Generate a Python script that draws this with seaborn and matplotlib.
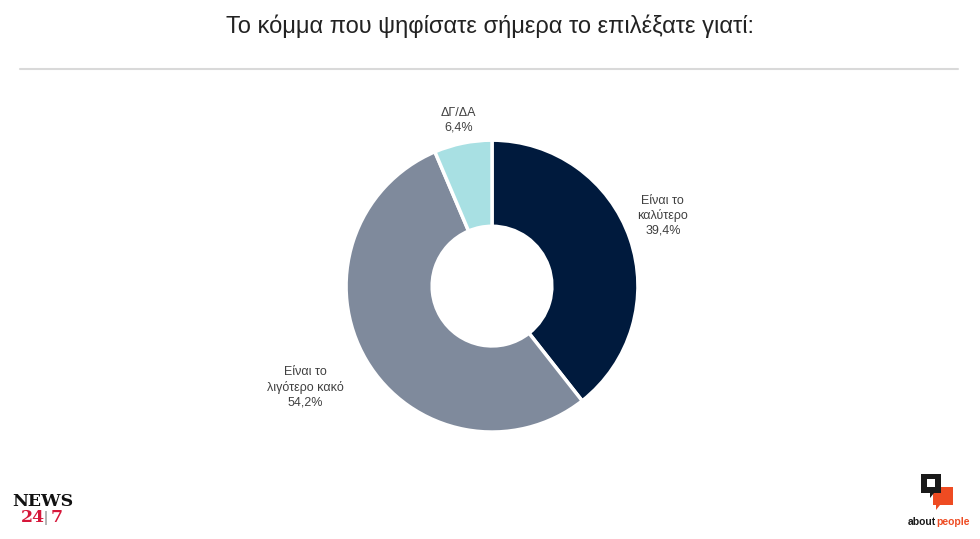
import matplotlib
matplotlib.use("Agg")
import matplotlib.pyplot as plt
import seaborn as sns
import numpy as np
from matplotlib.patches import Rectangle, Polygon

# ---------------------------------------------------------
# DATA
# ---------------------------------------------------------
title = "Το κόμμα που ψηφίσατε σήμερα το επιλέξατε γιατί:"
categories = ["Είναι το\nκαλύτερο", "Είναι το\nλιγότερο κακό", "ΔΓ/ΔΑ"]
shares = [39.4, 54.2, 6.4]
share_labels = ["39,4%", "54,2%", "6,4%"]
colors = ["#001a3d", "#7f8a9c", "#a8e0e3"]

sns.set_theme(style="white")
plt.rcParams["font.family"] = ["Liberation Sans", "DejaVu Sans"]

fig = plt.figure(figsize=(9.8, 5.39), dpi=100)
fig.patch.set_facecolor("white")

# title + separator line
fig.text(0.5, 1 - 33 / 539, title, ha="center", va="baseline", fontsize=17, color="#222222")
fig.add_artist(plt.Line2D([20 / 980, 958 / 980], [1 - 69 / 539] * 2,
                          color="#d9d9d9", lw=1.5))

# ---------------------------------------------------------
# DONUT
# ---------------------------------------------------------
ax = fig.add_axes([0.2637, 0.036, 0.4767, 0.8664])
wedges, _ = ax.pie(shares, colors=colors, startangle=90, counterclock=False,
                   radius=1, wedgeprops=dict(width=0.59, edgecolor="white", linewidth=2.5))
ax.set_xlim(-1.6, 1.6)
ax.set_ylim(-1.6, 1.6)
ax.set_aspect("equal")
ax.axis("off")

# label placement: (distance from centre, angle nudge in degrees)
label_place = [(1.267, 3.4), (1.456, -2.2), (1.16, 0.0)]
for w, cat, lab, (d, nudge) in zip(wedges, categories, share_labels, label_place):
    ang = np.deg2rad((w.theta1 + w.theta2) / 2 + nudge)
    ax.text(d * np.cos(ang), d * np.sin(ang), f"{cat}\n{lab}", ha="center", va="center",
            fontsize=9, color="#404040", linespacing=1.25)

# ---------------------------------------------------------
# LOGOS
# ---------------------------------------------------------
fig.text(12 / 980, 1 - 501 / 539, "NEWS", fontsize=12.5, fontweight="bold",
         family="DejaVu Serif", color="#111111", ha="left", va="center")
fig.text(21 / 980, 1 - 518 / 539, "24", fontsize=12.5, fontweight="bold",
         family="DejaVu Serif", color="#d6173a", ha="left", va="center")
fig.text(46 / 980, 1 - 518 / 539, "|", fontsize=11, color="#888888", ha="center", va="center")
fig.text(51 / 980, 1 - 518 / 539, "7", fontsize=12.5, fontweight="bold",
         family="DejaVu Serif", color="#d6173a", ha="left", va="center")

def px(x, y):
    return (x / 980, 1 - y / 539)

fig.add_artist(Polygon([px(933, 487), px(953, 487), px(953, 505), px(940, 505),
                        px(936, 510), px(936, 505), px(933, 505)],
                       closed=True, facecolor="#ee4b22", edgecolor="none",
                       transform=fig.transFigure))
fig.add_artist(Polygon([px(921, 474), px(941, 474), px(941, 493), px(934, 493),
                        px(930, 498), px(930, 493), px(921, 493)],
                       closed=True, facecolor="#1a1a1a", edgecolor="none",
                       transform=fig.transFigure))
fig.add_artist(Rectangle(px(927, 487), 8 / 980, 8 / 539, facecolor="white",
                         edgecolor="none", transform=fig.transFigure))
fig.text(936 / 980, 1 - 522 / 539, "about", fontsize=7.5, fontweight="bold",
         color="#1a1a1a", ha="right", va="center")
fig.text(936 / 980, 1 - 522 / 539, "people", fontsize=7.5, fontweight="bold",
         color="#ee4b22", ha="left", va="center")

fig.savefig("out.png", dpi=100, facecolor="white")
